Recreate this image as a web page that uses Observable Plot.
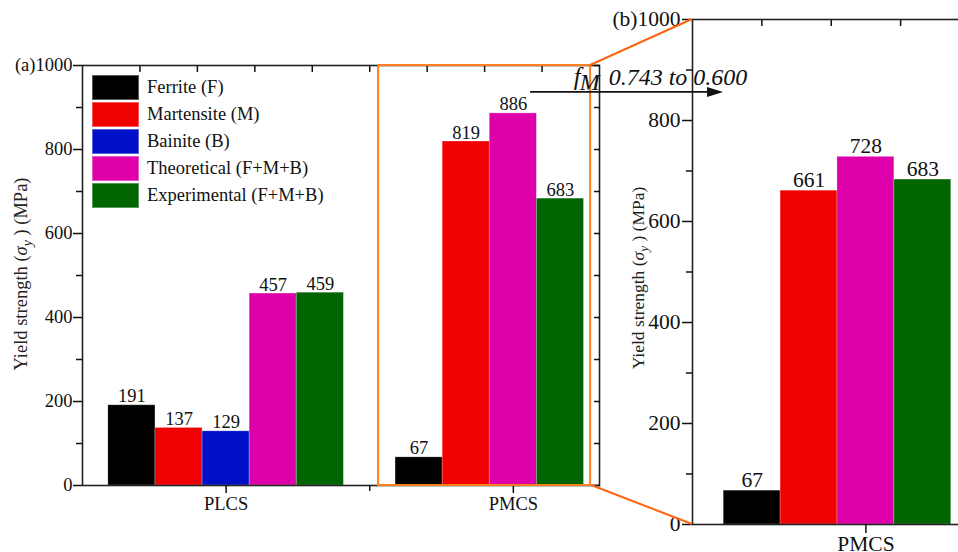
<!DOCTYPE html>
<html><head><meta charset="utf-8">
<script src="https://cdn.jsdelivr.net/npm/d3@7"></script>
<script src="https://cdn.jsdelivr.net/npm/@observablehq/plot@0.6"></script>
<style>
body{margin:0;background:#fff;overflow:hidden}
#wrap{position:relative;width:958px;height:552px;overflow:hidden;font-family:"Liberation Serif","Times New Roman",serif;background:#fff}
#wrap > svg{position:absolute;top:0;overflow:visible;background:transparent;max-width:none}
.legend{position:absolute;left:92px;top:75px;font-size:18.5px;color:#111}
.legend .row{display:flex;align-items:center;height:25px;margin-bottom:2px}
.legend .sw{width:47px;height:25px;margin-right:8px;box-sizing:border-box;border:1px solid rgba(255,255,255,0.35)}
</style></head><body><div id="wrap"></div>
<script>
// ---- data ----
const phases = ["Ferrite (F)", "Martensite (M)", "Bainite (B)", "Theoretical (F+M+B)", "Experimental (F+M+B)"];
const colors = ["#000000", "#F00000", "#0010C8", "#DD00AA", "#006400"];
const steels = ["PLCS", "PMCS"];
const plcsValues = [191, 137, 129, 457, 459];
const pmcsValues = [67, 819, null, 886, 683];
const pmcsZoomValues = [67, 661, null, 728, 683];
const yTicks = [0, 200, 400, 600, 800, 1000];
const yMinorTicks = [100, 300, 500, 700, 900];
const fmFrom = "0.743";
const fmTo = "0.600";

// ---- layout helpers ----
const BW = 0.164; // bar width in category units
function groupRows(values, steel) {
  const pos = steels.indexOf(steel) + 1;
  let k = 0;
  const out = [];
  values.forEach((v, i) => {
    if (v == null) return;
    const x1 = pos - 2.5 * BW + k * BW;
    out.push({steel, phase: phases[i], value: v, x1, x2: x1 + BW, xm: x1 + BW / 2});
    k++;
  });
  return out;
}
const dataA = [...groupRows(plcsValues, "PLCS"), ...groupRows(pmcsValues, "PMCS")];
const dataB = groupRows(pmcsZoomValues, "PMCS");
const font = '"Liberation Serif","Times New Roman",serif';
const blank = () => "";
const allHundreds = d3.range(0, 1001, 100);
const topTicks = d3.range(0.7, 2.2, 0.2);

// ---- panel (a) ----
const boxA = {x1: 1.531, x2: 2.269};
const A = Plot.plot({
  width: 620, height: 552,
  marginLeft: 82, marginRight: 21, marginTop: 65, marginBottom: 67,
  x: {domain: [0.5, 2.3]},
  y: {domain: [0, 1000]},
  color: {domain: phases, range: colors},
  style: {fontFamily: font, background: "transparent", color: "#111"},
  marks: [
    Plot.rect(dataA, {x1: "x1", x2: "x2", y1: 0, y2: "value", fill: "phase", stroke: "white", strokeOpacity: 0.3, strokeWidth: 0.8}),
    Plot.frame({stroke: "#222", strokeWidth: 1.6}),
    Plot.axisY(yTicks, {anchor: "left", tickSize: 9, tickPadding: 1, fontSize: 18.5, strokeWidth: 1.5, label: null, tickFormat: d => d === 1000 ? "(a)1000" : String(d)}),
    Plot.axisY(yMinorTicks, {anchor: "left", tickSize: 6, strokeWidth: 1.5, label: null, tickFormat: blank}),
    Plot.axisY(allHundreds, {anchor: "right", tickSize: 6, dx: -6, strokeWidth: 1.5, label: null, tickFormat: blank}),
    Plot.axisX([1, 2], {anchor: "bottom", tickSize: 8, tickPadding: 3, fontSize: 18.5, strokeWidth: 1.5, label: null, tickFormat: d => steels[d - 1]}),
    Plot.axisX([1.5], {anchor: "bottom", tickSize: 6, strokeWidth: 1.5, label: null, tickFormat: blank}),
    Plot.axisX(topTicks, {anchor: "top", tickSize: 6, dy: 6, strokeWidth: 1.5, label: null, tickFormat: blank}),
    Plot.rect([0], {x1: boxA.x1, x2: boxA.x2, y1: 0, y2: 1000, fill: "none", stroke: "#FF7F1E", strokeWidth: 2}),
    Plot.text(dataA, {x: "xm", y: "value", text: d => String(d.value), lineAnchor: "bottom", dy: -3, fontSize: 18.5, fill: "#111"})
  ]
});
A.style.left = "0px";

// ---- panel (b) ----
const B = Plot.plot({
  width: 380, height: 552,
  marginLeft: 92, marginRight: 14, marginTop: 19, marginBottom: 28,
  x: {domain: [1.5, 2.29]},
  y: {domain: [0, 1000]},
  color: {domain: phases, range: colors},
  style: {fontFamily: font, background: "transparent", color: "#111"},
  marks: [
    Plot.rect(dataB, {x1: "x1", x2: "x2", y1: 0, y2: "value", fill: "phase", stroke: "white", strokeOpacity: 0.3, strokeWidth: 0.8}),
    Plot.frame({stroke: "#222", strokeWidth: 1.6}),
    Plot.axisY(yTicks, {anchor: "left", tickSize: 10, tickPadding: 2, fontSize: 21.5, strokeWidth: 1.5, label: null, tickFormat: d => d === 1000 ? "(b)1000" : String(d)}),
    Plot.axisY(yMinorTicks, {anchor: "left", tickSize: 6, strokeWidth: 1.5, label: null, tickFormat: blank}),
    Plot.axisX([2], {anchor: "bottom", tickSize: 9, tickPadding: 2, fontSize: 21.5, strokeWidth: 1.5, label: null, tickFormat: d => steels[d - 1]}),
    Plot.axisX(topTicks.filter(t => t > 1.55), {anchor: "top", tickSize: 6, dy: 6, strokeWidth: 1.5, label: null, tickFormat: blank}),
    Plot.text(dataB, {x: "xm", y: "value", text: d => String(d.value), lineAnchor: "bottom", dy: -4, fontSize: 21.5, fill: "#111"})
  ]
});
const bLeft = 600;
B.style.left = bLeft + "px";

const wrap = document.getElementById("wrap");
wrap.appendChild(A);
wrap.appendChild(B);

// ---- legend ----
const legend = document.createElement("div");
legend.className = "legend";
phases.forEach((p, i) => {
  const row = document.createElement("div");
  row.className = "row";
  row.innerHTML = `<div class="sw" style="background:${colors[i]}"></div><span>${p}</span>`;
  legend.appendChild(row);
});
wrap.appendChild(legend);

// ---- overlay: connectors, arrow, axis titles ----
const ax = A.scale("x"), ay = A.scale("y"), bx = B.scale("x"), by = B.scale("y");
const ov = d3.create("svg").attr("width", 958).attr("height", 552)
  .style("left", "0px").style("pointer-events", "none");
const conn = "#FF6410";
ov.append("line")
  .attr("x1", ax.apply(boxA.x2)).attr("y1", ay.apply(1000))
  .attr("x2", bLeft + bx.apply(1.5)).attr("y2", by.apply(1000))
  .attr("stroke", conn).attr("stroke-width", 2);
ov.append("line")
  .attr("x1", ax.apply(boxA.x2) + 1).attr("y1", ay.apply(0))
  .attr("x2", bLeft + bx.apply(1.5)).attr("y2", by.apply(0))
  .attr("stroke", conn).attr("stroke-width", 2);

// arrow showing the change of martensite fraction
const arr = {x1: ax.apply(2.06), x2: ax.apply(2.732), y: ay.apply(936)};
ov.append("line").attr("x1", arr.x1).attr("x2", arr.x2 - 12).attr("y1", arr.y).attr("y2", arr.y)
  .attr("stroke", "#111").attr("stroke-width", 1.6);
ov.append("path")
  .attr("d", `M${arr.x2},${arr.y} L${arr.x2 - 16},${arr.y - 5} L${arr.x2 - 16},${arr.y + 5} Z`)
  .attr("fill", "#111");
const ft = ov.append("text").attr("x", ax.apply(2.212)).attr("y", ay.apply(952))
  .attr("font-family", font).attr("font-style", "italic").attr("fill", "#111").attr("font-size", 24);
ft.append("tspan").attr("font-size", 25).text("f");
ft.append("tspan").attr("dy", 5).attr("dx", -1).text("M");
ft.append("tspan").attr("dy", -5).attr("dx", 9).text(`${fmFrom} to ${fmTo}`);

function yTitle(x, y, size) {
  const t = ov.append("text").attr("transform", `translate(${x},${y}) rotate(-90)`)
    .attr("text-anchor", "middle").attr("font-family", font).attr("font-size", size).attr("fill", "#222");
  t.append("tspan").text("Yield strength (");
  t.append("tspan").attr("font-style", "italic").text("σ");
  t.append("tspan").attr("font-style", "italic").attr("font-size", size * 0.75).attr("dy", size * 0.25).text("y");
  t.append("tspan").attr("dy", -size * 0.25).text(" ) (MPa)");
}
yTitle(27, 274, 18.5);
yTitle(644, 278, 17.5);

wrap.appendChild(ov.node());
</script>
</body></html>
